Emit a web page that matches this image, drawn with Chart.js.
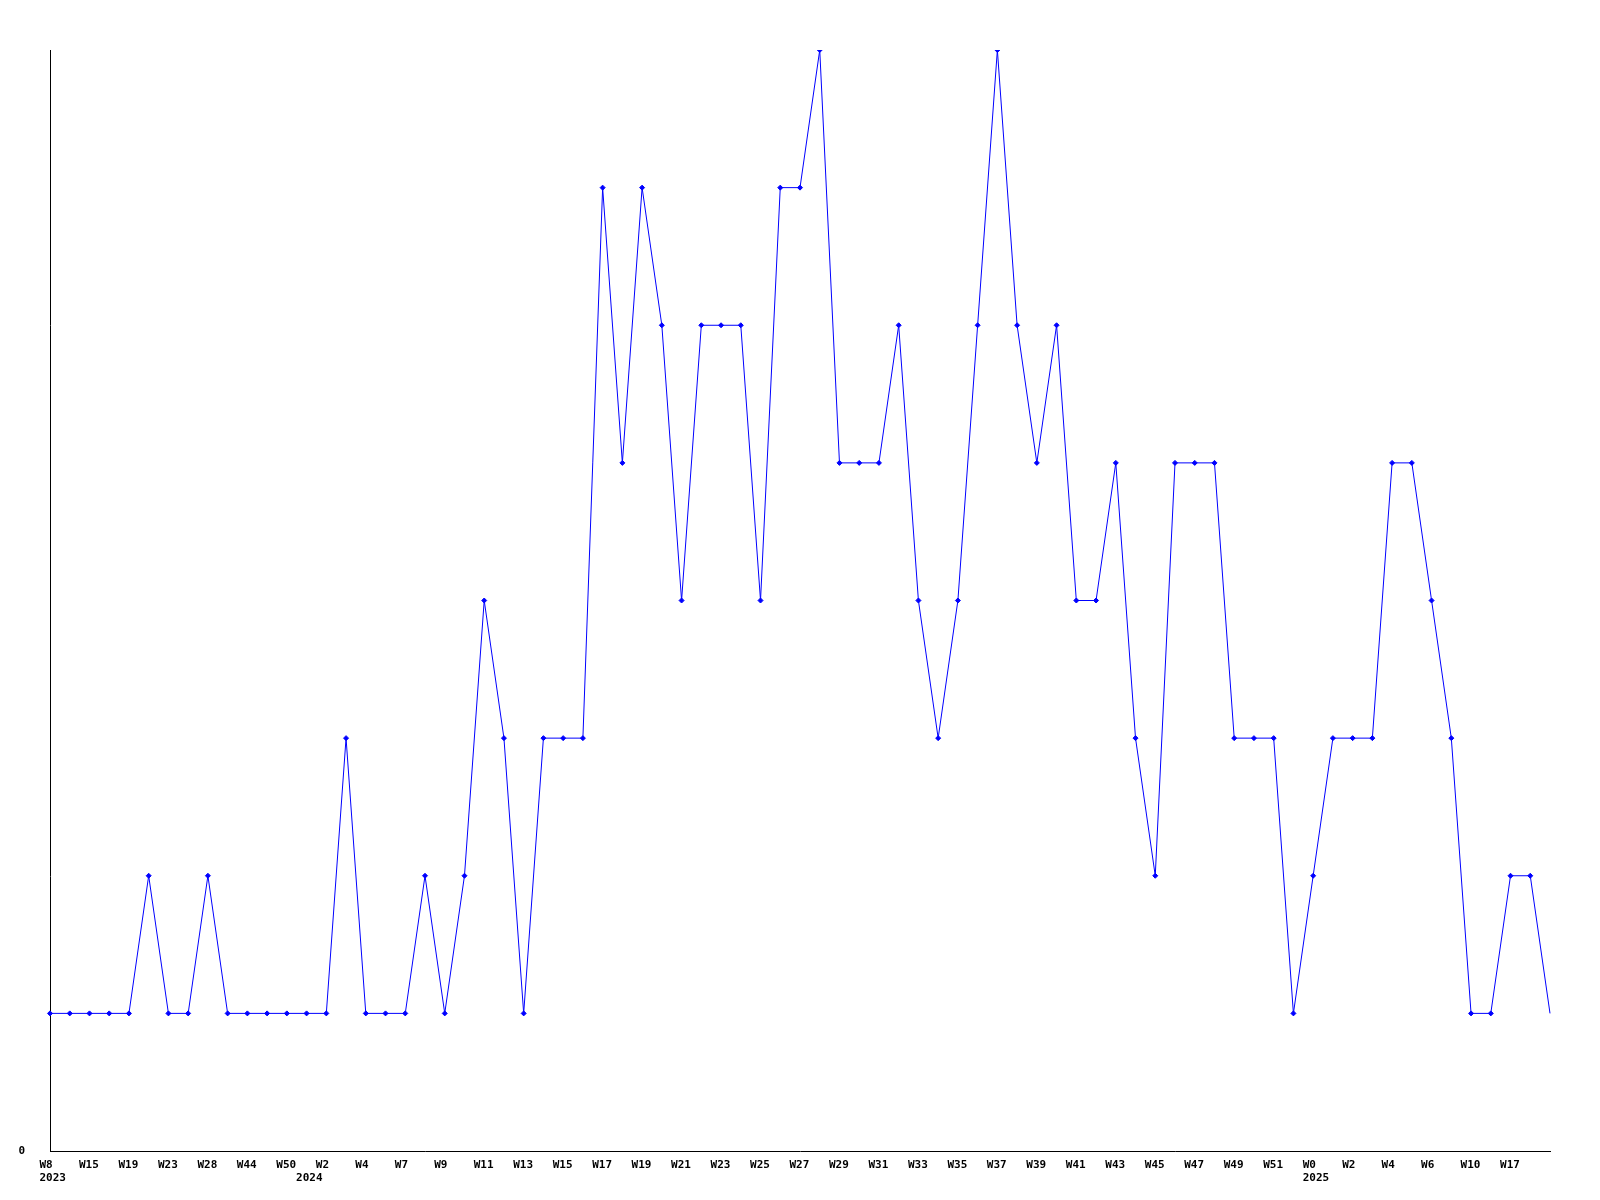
<!DOCTYPE html>
<html>
<head>
<meta charset="utf-8">
<title>Weekly chart</title>
<script src="https://cdn.jsdelivr.net/npm/chart.js@4"></script>
<style>
  html, body { margin: 0; padding: 0; background: #fff; }
  canvas { display: block; }
</style>
</head>
<body>
<canvas id="chart" width="1600" height="1200"></canvas>
<script>
// ---------- DATA ----------
// one value per week (integer counts)
const values = [
  1, 1, 1, 1, 1, 2, 1, 1, 2, 1,
  1, 1, 1, 1, 1, 3, 1, 1, 1, 2,
  1, 2, 4, 3, 1, 3, 3, 3, 7, 5,
  7, 6, 4, 6, 6, 6, 4, 7, 7, 8,
  5, 5, 5, 6, 4, 3, 4, 6, 8, 6,
  5, 6, 4, 4, 5, 3, 2, 5, 5, 5,
  3, 3, 3, 1, 2, 3, 3, 3, 5, 5,
  4, 3, 1, 1, 2, 2, 1
];

// week labels, shown on every second point
const weekTicks = [
  "W8", "W15", "W19", "W23", "W28", "W44", "W50", "W2", "W4", "W7",
  "W9", "W11", "W13", "W15", "W17", "W19", "W21", "W23", "W25", "W27",
  "W29", "W31", "W33", "W35", "W37", "W39", "W41", "W43", "W45", "W47",
  "W49", "W51", "W0", "W2", "W4", "W6", "W10", "W17"
];

// year labels and the point where each year starts
const yearIndex = [0, 13, 64];
const yearText  = ["2023", "2024", "2025"];

const categories = values.map((v, i) => i);

// ---------- LABELS ----------
function tickLines(i) {
  const week = i % 2 === 0 ? (weekTicks[i / 2] || "") : "";
  const y = yearIndex.indexOf(i);
  if (y >= 0) return [week, yearText[y]];
  return week;
}

const fontTicks = { family: "'DejaVu Sans Mono', monospace", size: 11, weight: "bold", lineHeight: 1.23 };

// ---------- CHART ----------
new Chart(document.getElementById("chart"), {
  type: "line",
  data: {
    labels: categories,
    datasets: [{
      data: values,
      borderColor: "#0000ff",
      backgroundColor: "#0000ff",
      borderWidth: 1,
      tension: 0,
      fill: false,
      pointStyle: "rectRot",
      pointRadius: ctx => (ctx.dataIndex === values.length - 1 ? 0 : 2.5),
      pointBorderWidth: 1
    }]
  },
  options: {
    responsive: false,
    animation: false,
    layout: { padding: { top: 50, right: 50, left: 0, bottom: 0 } },
    plugins: { legend: { display: false }, tooltip: { enabled: false } },
    scales: {
      x: {
        type: "category",
        offset: false,
        grid: { display: false, drawTicks: false },
        border: { display: true, color: "#000", width: 1 },
        ticks: {
          autoSkip: false,
          maxRotation: 0,
          minRotation: 0,
          align: "start",
          labelOffset: -10.5,
          padding: 7,
          color: "#000",
          font: fontTicks,
          callback: (v, i) => tickLines(i)
        },
        afterFit: s => { s.height = 49; }
      },
      y: {
        min: 0,
        max: 8,
        grid: { display: false, drawTicks: false },
        border: { display: true, color: "#000", width: 1 },
        ticks: { color: "#000", font: fontTicks, padding: 25 },
        afterBuildTicks: s => { s.ticks = [{ value: 0 }]; },
        afterFit: s => { s.width = 50; }
      }
    }
  }
});
</script>
</body>
</html>
